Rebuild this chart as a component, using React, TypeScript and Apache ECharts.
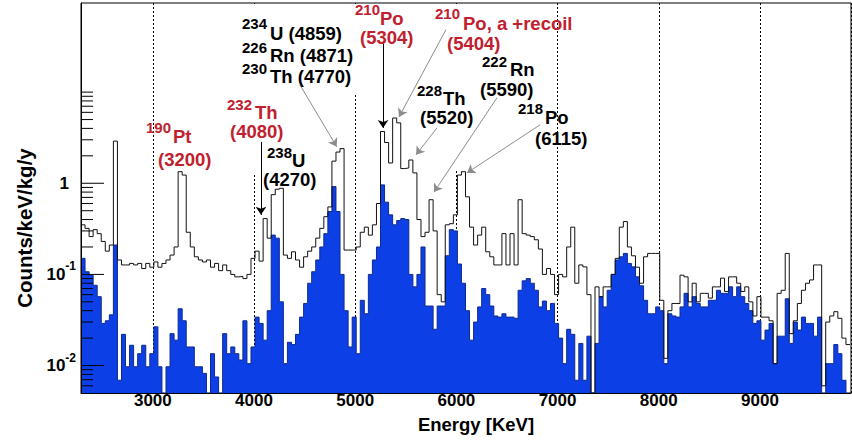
import React, { useEffect, useRef } from 'react';
import * as echarts from 'echarts';

// ---- data ----
const BIN_START = 2290; // keV, low edge of first bin
const BIN_WIDTH = 40; // keV
const X_MIN = 2290;
const X_MAX = 9900;
const Y_MIN = 0.005;
const Y_MAX = 95;

// all events (black outline), counts/keV/kg/y per bin
const totalCounts = [
  0.35, 0.32, 0.26, 0.31, 0.28, 0.23, 0.18, 0.21, 2.9, 0.144,
  0.127, 0.127, 0.132, 0.127, 0.132, 0.116, 0.132, 0.12, 0.137, 0.12,
  0.132, 0.144, 0.163, 0.2, 1.34, 1.23, 0.29, 0.2, 0.156, 0.144,
  0.137, 0.144, 0.12, 0.132, 0.11, 0.127, 0.11, 0.1, 0.094, 0.095,
  0.09, 0.1, 0.15, 0.18, 0.14, 0.41, 0.25, 0.75, 0.86, 0.88,
  0.163, 0.15, 0.177, 0.144, 0.12, 0.156, 0.18, 0.2, 0.25, 0.32,
  0.43, 0.55, 1.75, 2.2, 2.4, 0.185, 0.185, 0.185, 0.2, 0.29,
  0.33, 0.27, 0.35, 0.6, 3.7, 2.8, 1.67, 5.2, 4.6, 1.45,
  1.47, 1.8, 1.3, 0.4, 0.26, 0.29, 0.66, 0.3, 0.06, 0.05,
  0.35, 0.36, 0.45, 1.23, 1.34, 0.71, 0.33, 0.21, 0.27, 0.33,
  0.177, 0.156, 0.127, 0.127, 0.28, 0.127, 0.28, 0.127, 0.66, 0.28,
  0.27, 0.26, 0.24, 0.19, 0.1, 0.116, 0.1, 0.06, 0.1, 0.094,
  0.2, 0.33, 0.08, 0.127, 0.121, 0.06, 0.005, 0.073, 0.057, 0.073,
  0.073, 0.1, 0.15, 0.33, 0.38, 0.2, 0.16, 0.12, 0.08, 0.156,
  0.17, 0.17, 0.17, 0.052, 0.012, 0.04, 0.048, 0.048, 0.098, 0.094,
  0.05, 0.08, 0.05, 0.062, 0.062, 0.055, 0.073, 0.073, 0.091, 0.065,
  0.094, 0.094, 0.08, 0.065, 0.073, 0.05, 0.035, 0.057, 0.034, 0.034,
  0.031, 0.0105, 0.062, 0.067, 0.17, 0.0224, 0.031, 0.048, 0.067, 0.08,
  0.087, 0.127, 0.127, 0.006, 0.03, 0.035, 0.039, 0.033, 0.02, 0.017,
];

// selected events (blue filled), counts/keV/kg/y per bin
const selectedCounts = [
  0.15, 0.107, 0.098, 0.076, 0.057, 0.029, 0.031, 0.036, 0.21, 0.0069,
  0.022, 0.0097, 0.0167, 0.0097, 0.0135, 0.0167, 0.0097, 0.0135, 0.0266, 0.0097,
  0, 0.0097, 0.0224, 0.019, 0.042, 0.031, 0.016, 0.016, 0.0097, 0.0097,
  0.0082, 0, 0.0135, 0.0075, 0, 0.0224, 0.0135, 0.016, 0.0135, 0.0115,
  0.031, 0.0105, 0.016, 0.034, 0.029, 0.019, 0.04, 0.27, 0.25, 0.05,
  0.0105, 0.018, 0.017, 0.022, 0.034, 0.048, 0.08, 0.107, 0.144, 0.2,
  0.28, 0.49, 0.92, 0.49, 0.1, 0.04, 0.016, 0.034, 0.0135, 0.052,
  0.037, 0.1, 0.144, 0.2, 0.96, 0.62, 0.45, 0.35, 0.39, 0.41,
  0.4, 0.1, 0.073, 0.1, 0.2, 0.045, 0.045, 0.025, 0.045, 0.045,
  0.16, 0.31, 0.3, 0.13, 0.08, 0.04, 0.019, 0.03, 0.044, 0.07,
  0.06, 0.045, 0.035, 0.034, 0.037, 0.034, 0.034, 0.033, 0.067, 0.085,
  0.09, 0.08, 0.067, 0.044, 0.051, 0.04, 0.048, 0.029, 0.02, 0.0105,
  0.025, 0.022, 0.0069, 0.0175, 0.0069, 0.021, 0, 0.0175, 0.057, 0.044,
  0.067, 0.1, 0.144, 0.156, 0.17, 0.132, 0.121, 0.094, 0.075, 0.052,
  0.037, 0.037, 0.044, 0.04, 0.0105, 0.037, 0.035, 0.034, 0.044, 0.062,
  0.044, 0.057, 0.048, 0.044, 0.044, 0.052, 0.052, 0.067, 0.062, 0.062,
  0.073, 0.057, 0.073, 0.057, 0.048, 0.04, 0.029, 0.031, 0.019, 0.0245,
  0.029, 0.0105, 0.021, 0.021, 0.054, 0.0175, 0.03, 0.0245, 0.034, 0.029,
  0.029, 0.021, 0.034, 0, 0.0105, 0.0105, 0.017, 0.0135, 0.0069, 0,
];

const yMajorTicks = [0.01, 0.1, 1];
const yMinorTicks = [
  0.006, 0.007, 0.008, 0.009,
  0.02, 0.03, 0.04, 0.05, 0.06, 0.07, 0.08, 0.09,
  0.2, 0.3, 0.4, 0.5, 0.6, 0.7, 0.8, 0.9,
  2, 3, 4, 5, 6, 7, 8, 9, 10,
];
const yLabelExponents = [-2, -1, 0];

// arrows: [fromEnergy, fromValue, toEnergy, toValue, grey?]
const arrows = [
  [4069, 2.84, 4069, 0.45, 0],
  [5275, 35.7, 5275, 4.05, 0],
  [4454, 12.0, 4817, 2.52, 1],
  [5897, 48.4, 5433, 5.35, 1],
  [5808, 4.05, 5601, 2.05, 1],
  [6401, 8.66, 5779, 0.8, 1],
  [6826, 4.37, 6105, 1.3, 1],
];

const FONT = '"Liberation Sans", Arial, Helvetica, sans-serif';
const RED = '#c1202e';
const BLUE = '#0d3fe6';
const DARK_BLUE = '#0f2a8e';

function stepData(values: number[]) {
  const pts: number[][] = values.map((v, i) => [BIN_START + i * BIN_WIDTH, v > 0 ? v : 1e-4]);
  const last = values[values.length - 1];
  pts.push([BIN_START + values.length * BIN_WIDTH, last > 0 ? last : 1e-4]);
  return pts;
}

function txt(text: string, x: number, y: number, size: number, color: string, align = 'left') {
  return {
    type: 'text',
    x,
    y,
    z: 100,
    silent: true,
    style: {
      text,
      fill: color,
      font: `bold ${size}px ${FONT}`,
      align,
      verticalAlign: 'middle',
      textAlign: align,
      textVerticalAlign: 'middle',
    },
  };
}

function whiteBox(x: number, y: number, w: number, h: number) {
  return {
    type: 'rect',
    z: 1,
    silent: true,
    shape: { x, y, width: w, height: h },
    style: { fill: '#ffffff' },
  };
}

export default function App() {
  const ref = useRef<HTMLDivElement>(null);

  useEffect(() => {
    if (!ref.current) return;
    const chart = echarts.init(ref.current, undefined, { renderer: 'svg' });
    const N = selectedCounts.length;

    const option: any = {
      animation: false,
      backgroundColor: '#ffffff',
      grid: {
        left: 81,
        right: 1,
        top: 3,
        bottom: 47,
        show: true,
        borderColor: '#000',
        borderWidth: 1,
        backgroundColor: 'transparent',
      },
      xAxis: {
        type: 'value',
        min: X_MIN,
        max: X_MAX,
        splitNumber: 8,
        minInterval: 1000,
        maxInterval: 1000,
        z: 0,
        axisLine: { show: true, lineStyle: { color: '#000', width: 1 } },
        axisTick: { show: false },
        axisLabel: {
          margin: -1,
          color: '#000',
          fontSize: 17,
          fontWeight: 'bold',
          fontFamily: FONT,
          showMinLabel: false,
          showMaxLabel: false,
          formatter: (v: number) => (Math.abs(v % 1000) < 1e-6 ? String(Math.round(v)) : ''),
        },
        splitLine: { show: true, lineStyle: { color: '#000', width: 1, type: [2, 2] } },
      },
      yAxis: {
        type: 'log',
        logBase: 10,
        min: Y_MIN,
        max: Y_MAX,
        z: 5,
        axisLine: { show: true, lineStyle: { color: '#000', width: 1 } },
        axisTick: { show: false },
        minorTick: { show: false },
        splitLine: { show: false },
        axisLabel: {
          margin: 5,
          color: '#000',
          fontSize: 17,
          fontWeight: 'bold',
          fontFamily: FONT,
          formatter: (v: number) => {
            const e = Math.log10(v);
            const r = Math.round(e);
            if (Math.abs(e - r) > 1e-6 || yLabelExponents.indexOf(r) < 0) return '';
            if (r === 0) return '{one|1}';
            return `{b|10}{s|${r}}`;
          },
          rich: {
            b: { fontSize: 17, fontWeight: 'bold', fontFamily: FONT, color: '#000' },
            one: {
              fontSize: 17,
              fontWeight: 'bold',
              fontFamily: FONT,
              color: '#000',
              padding: [0, 7, 0, 0],
            },
            s: {
              fontSize: 12,
              fontWeight: 'bold',
              fontFamily: FONT,
              color: '#000',
              padding: [0, 0, 16, 0],
            },
          },
        },
      },
      series: [
        {
          type: 'custom',
          name: 'selected fill',
          z: 2,
          silent: true,
          clip: true,
          data: [[BIN_START, Y_MIN]],
          renderItem: (_params: any, api: any) => {
            const pts: number[][] = [];
            selectedCounts.forEach((v, i) => {
              const y = Math.max(v, Y_MIN);
              pts.push(api.coord([BIN_START + i * BIN_WIDTH, y]));
              pts.push(api.coord([BIN_START + (i + 1) * BIN_WIDTH, y]));
            });
            pts.push(api.coord([BIN_START + N * BIN_WIDTH, Y_MIN]));
            pts.push(api.coord([BIN_START, Y_MIN]));
            return { type: 'polygon', shape: { points: pts }, style: { fill: BLUE } };
          },
        },
        {
          type: 'line',
          name: 'selected',
          z: 3,
          step: 'end',
          showSymbol: false,
          symbol: 'none',
          silent: true,
          clip: true,
          data: stepData(selectedCounts),
          lineStyle: { color: DARK_BLUE, width: 1 },
        },
        {
          type: 'line',
          name: 'all',
          z: 4,
          step: 'end',
          showSymbol: false,
          symbol: 'none',
          silent: true,
          clip: true,
          data: stepData(totalCounts),
          lineStyle: { color: '#111', width: 1 },
          markLine: {
            silent: true,
            symbol: ['none', 'arrow'],
            symbolSize: 8,
            label: { show: false },
            emphasis: { disabled: true },
            data: arrows.map((a) => {
              const c = a[4] ? '#8c8c8c' : '#000';
              return [
                { coord: [a[0], a[1]], lineStyle: { color: c, width: 1, type: 'solid' }, itemStyle: { color: c } },
                { coord: [a[2], a[3]], lineStyle: { color: c, width: 1, type: 'solid' }, itemStyle: { color: c } },
              ];
            }),
          },
        },
        {
          type: 'custom',
          name: 'y ticks',
          z: 6,
          silent: true,
          data: [
            ...yMajorTicks.map((v) => [X_MIN, v, 1]),
            ...yMinorTicks.map((v) => [X_MIN, v, 0]),
          ],
          renderItem: (_params: any, api: any) => {
            const p = api.coord([api.value(0), api.value(1)]);
            const len = api.value(2) ? 23 : 12;
            return {
              type: 'line',
              shape: { x1: p[0], y1: p[1], x2: p[0] + len, y2: p[1] },
              style: { stroke: '#000', lineWidth: 1 },
            };
          },
        },
      ],
      graphic: {
        elements: [
          whiteBox(236, 4, 126, 90),
          whiteBox(224, 94, 66, 52),
          whiteBox(250, 146, 72, 28),
          whiteBox(430, 4, 115, 48),
          whiteBox(412, 52, 68, 119),
          // axis titles
          {
            type: 'text',
            x: 24,
            y: 228,
            rotation: Math.PI / 2,
            z: 100,
            silent: true,
            style: {
              text: 'Counts/keV/kg/y',
              fill: '#000',
              font: `bold 20.5px ${FONT}`,
              align: 'center',
              verticalAlign: 'middle',
              textAlign: 'center',
              textVerticalAlign: 'middle',
            },
          },
          txt('Energy [KeV]', 476, 424, 18.5, '#000', 'center'),
          // 190Pt
          txt('190', 146, 127, 15, RED),
          txt('Pt', 173, 136, 18.5, RED),
          txt('(3200)', 158, 159, 18.5, RED),
          // 232Th
          txt('232', 227, 104, 15, RED),
          txt('Th', 255, 112, 18.5, RED),
          txt('(4080)', 230, 131, 18.5, RED),
          // 238U
          txt('238', 267, 152, 15, '#000'),
          txt('U', 292, 160, 18.5, '#000'),
          txt('(4270)', 263, 179.5, 18.5, '#000'),
          // 234U / 226Rn / 230Th block
          txt('234', 242, 23, 15, '#000'),
          txt('U (4859)', 270, 33, 18.5, '#000'),
          txt('226', 242, 47, 15, '#000'),
          txt('Rn (4871)', 270, 55, 18.5, '#000'),
          txt('230', 242, 68, 15, '#000'),
          txt('Th (4770)', 270, 76, 18.5, '#000'),
          // 210Po
          txt('210', 355, 9, 15, RED),
          txt('Po', 380, 18, 18.5, RED),
          txt('(5304)', 360, 37.5, 18.5, RED),
          // 210Po alpha + recoil
          txt('210', 435, 13, 15, RED),
          txt('Po, a +recoil', 463, 23, 18.5, RED),
          txt('(5404)', 447, 43, 18.5, RED),
          // 228Th
          txt('228', 417, 90, 15, '#000'),
          txt('Th', 443, 98, 18.5, '#000'),
          txt('(5520)', 420, 117.5, 18.5, '#000'),
          // 222Rn
          txt('222', 482, 61, 15, '#000'),
          txt('Rn', 510, 69.5, 18.5, '#000'),
          txt('(5590)', 480, 89, 18.5, '#000'),
          // 218Po
          txt('218', 518, 108, 15, '#000'),
          txt('Po', 545, 117, 18.5, '#000'),
          txt('(6115)', 535, 138, 18.5, '#000'),
        ],
      },
    };

    chart.setOption(option);
    return () => chart.dispose();
  }, []);

  return (
    <div
      ref={ref}
      style={{ position: 'fixed', left: 0, top: 0, width: 852, height: 440, background: '#fff' }}
    />
  );
}
